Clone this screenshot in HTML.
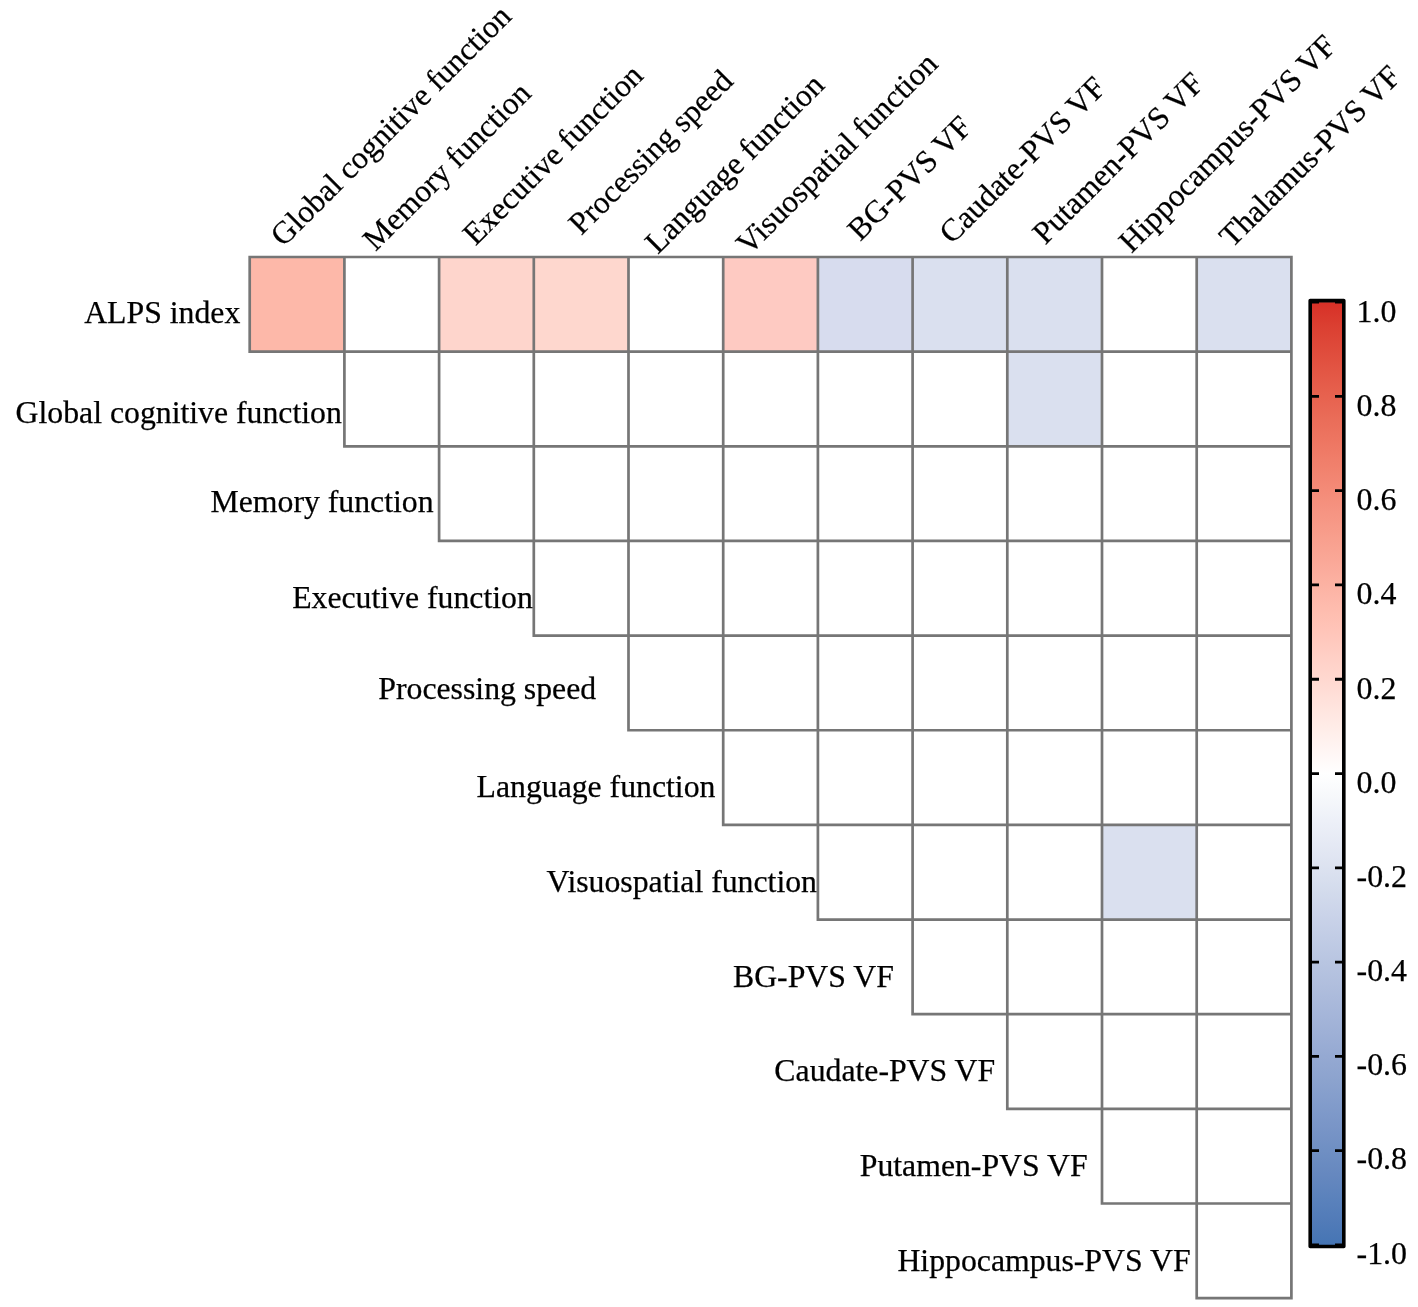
<!DOCTYPE html><html><head><meta charset="utf-8"><style>html,body{margin:0;padding:0;background:#fff;overflow:hidden}svg{display:block}text{font-family:"Liberation Serif",serif}</style></head><body>
<svg width="1418" height="1307" viewBox="0 0 1418 1307" font-family='"Liberation Serif", serif' font-size="31.75">
<rect x="0" y="0" width="1418" height="1307" fill="#fff"/>
<rect x="249.70" y="257.00" width="94.70" height="94.65" fill="#FDB8A9"/>
<rect x="439.10" y="257.00" width="94.70" height="94.65" fill="#FED5CC"/>
<rect x="533.80" y="257.00" width="94.70" height="94.65" fill="#FED7CE"/>
<rect x="723.20" y="257.00" width="94.70" height="94.65" fill="#FECAC2"/>
<rect x="817.90" y="257.00" width="94.70" height="94.65" fill="#D7DCEE"/>
<rect x="912.60" y="257.00" width="94.70" height="94.65" fill="#DAE0EF"/>
<rect x="1007.30" y="257.00" width="94.70" height="94.65" fill="#DAE0EF"/>
<rect x="1196.70" y="257.00" width="94.70" height="94.65" fill="#DAE0EF"/>
<rect x="1007.30" y="351.65" width="94.70" height="94.65" fill="#DAE0EF"/>
<rect x="1102.00" y="824.90" width="94.70" height="94.65" fill="#DAE0EF"/>
<path d="M249.70 257.00H1291.40M249.70 351.65H1291.40M344.40 446.30H1291.40M439.10 540.95H1291.40M533.80 635.60H1291.40M628.50 730.25H1291.40M723.20 824.90H1291.40M817.90 919.55H1291.40M912.60 1014.20H1291.40M1007.30 1108.85H1291.40M1102.00 1203.50H1291.40M1196.70 1298.15H1291.40M249.70 257.00V351.65M344.40 257.00V446.30M439.10 257.00V540.95M533.80 257.00V635.60M628.50 257.00V730.25M723.20 257.00V824.90M817.90 257.00V919.55M912.60 257.00V1014.20M1007.30 257.00V1108.85M1102.00 257.00V1203.50M1196.70 257.00V1298.15M1291.40 257.00V1298.15" stroke="#767676" stroke-width="2.7" fill="none" stroke-linecap="square"/>
<defs><linearGradient id="cb" x1="0" y1="0" x2="0" y2="1"><stop offset="0.000" stop-color="#D73027"/><stop offset="0.025" stop-color="#DB3F31"/><stop offset="0.050" stop-color="#DF4B3B"/><stop offset="0.075" stop-color="#E35745"/><stop offset="0.100" stop-color="#E7624F"/><stop offset="0.125" stop-color="#EA6D59"/><stop offset="0.150" stop-color="#EE7763"/><stop offset="0.175" stop-color="#F1816D"/><stop offset="0.200" stop-color="#F48B78"/><stop offset="0.225" stop-color="#F69583"/><stop offset="0.250" stop-color="#F89F8D"/><stop offset="0.275" stop-color="#FAA898"/><stop offset="0.300" stop-color="#FCB2A3"/><stop offset="0.325" stop-color="#FEBCAE"/><stop offset="0.350" stop-color="#FFC5B9"/><stop offset="0.375" stop-color="#FFCFC5"/><stop offset="0.400" stop-color="#FFD8D0"/><stop offset="0.425" stop-color="#FFE2DC"/><stop offset="0.450" stop-color="#FFECE7"/><stop offset="0.475" stop-color="#FFF5F3"/><stop offset="0.500" stop-color="#FFFFFF"/><stop offset="0.525" stop-color="#F6F8FB"/><stop offset="0.550" stop-color="#EDF0F8"/><stop offset="0.575" stop-color="#E5E9F4"/><stop offset="0.600" stop-color="#DCE2F0"/><stop offset="0.625" stop-color="#D3DBEC"/><stop offset="0.650" stop-color="#CAD3E9"/><stop offset="0.675" stop-color="#C1CCE5"/><stop offset="0.700" stop-color="#B8C5E1"/><stop offset="0.725" stop-color="#B0BEDD"/><stop offset="0.750" stop-color="#A7B7DA"/><stop offset="0.775" stop-color="#9EB0D6"/><stop offset="0.800" stop-color="#95A9D2"/><stop offset="0.825" stop-color="#8CA3CE"/><stop offset="0.850" stop-color="#829CCB"/><stop offset="0.875" stop-color="#7995C7"/><stop offset="0.900" stop-color="#6F8FC3"/><stop offset="0.925" stop-color="#6688BF"/><stop offset="0.950" stop-color="#5B82BC"/><stop offset="0.975" stop-color="#517BB8"/><stop offset="1.000" stop-color="#4575B4"/></linearGradient></defs>
<rect x="1312.0" y="302.1" width="30.0" height="942.9" fill="url(#cb)"/>
<path d="M1312.00 302.10h7M1342.00 302.10h-7M1312.00 396.39h7M1342.00 396.39h-7M1312.00 490.68h7M1342.00 490.68h-7M1312.00 584.97h7M1342.00 584.97h-7M1312.00 679.26h7M1342.00 679.26h-7M1312.00 773.55h7M1342.00 773.55h-7M1312.00 867.84h7M1342.00 867.84h-7M1312.00 962.13h7M1342.00 962.13h-7M1312.00 1056.42h7M1342.00 1056.42h-7M1312.00 1150.71h7M1342.00 1150.71h-7M1312.00 1245.00h7M1342.00 1245.00h-7" stroke="#000" stroke-width="2.8" fill="none"/>
<rect x="1310.20" y="300.60" width="33.60" height="945.90" fill="none" stroke="#000" stroke-width="3.6" stroke-linejoin="round"/>
<g fill="#000" stroke="#000" stroke-width="0.25" style="filter:grayscale(1)"><text x="84.20" y="322.90">ALPS index</text>
<text x="15.57" y="422.80">Global cognitive function</text>
<text x="210.53" y="512.00">Memory function</text>
<text x="292.13" y="607.50">Executive function</text>
<text x="378.33" y="699.20">Processing speed</text>
<text x="476.53" y="797.20">Language function</text>
<text x="546.42" y="892.40">Visuospatial function</text>
<text x="733.03" y="987.30">BG-PVS VF</text>
<text x="774.37" y="1080.60">Caudate-PVS VF</text>
<text x="859.74" y="1175.70">Putamen-PVS VF</text>
<text x="897.43" y="1270.90">Hippocampus-PVS VF</text>
<text transform="translate(283.30,247.70) rotate(-45)" font-size="31.6">Global cognitive function</text>
<text transform="translate(375.60,252.00) rotate(-45)" font-size="31.6">Memory function</text>
<text transform="translate(475.40,246.60) rotate(-45)" font-size="31.6">Executive function</text>
<text transform="translate(581.30,236.00) rotate(-45)" font-size="31.6">Processing speed</text>
<text transform="translate(657.80,254.90) rotate(-45)" font-size="31.6">Language function</text>
<text transform="translate(749.00,256.00) rotate(-45)" font-size="31.6">Visuospatial function</text>
<text transform="translate(860.30,242.00) rotate(-45)" font-size="31.6">BG-PVS VF</text>
<text transform="translate(952.00,245.00) rotate(-45)" font-size="31.6">Caudate-PVS VF</text>
<text transform="translate(1045.20,245.60) rotate(-45)" font-size="31.6">Putamen-PVS VF</text>
<text transform="translate(1131.50,254.00) rotate(-45)" font-size="31.6">Hippocampus-PVS VF</text>
<text transform="translate(1232.10,248.70) rotate(-45)" font-size="31.6">Thalamus-PVS VF</text>
<text x="1356.54" y="321.90" font-size="31.9">1.0</text>
<text x="1356.54" y="416.07" font-size="31.9">0.8</text>
<text x="1356.54" y="510.24" font-size="31.9">0.6</text>
<text x="1356.54" y="604.41" font-size="31.9">0.4</text>
<text x="1356.54" y="698.58" font-size="31.9">0.2</text>
<text x="1356.54" y="792.75" font-size="31.9">0.0</text>
<text x="1356.54" y="886.92" font-size="31.9">-0.2</text>
<text x="1356.54" y="981.09" font-size="31.9">-0.4</text>
<text x="1356.54" y="1075.26" font-size="31.9">-0.6</text>
<text x="1356.54" y="1169.43" font-size="31.9">-0.8</text>
<text x="1356.54" y="1263.60" font-size="31.9">-1.0</text></g>
</svg></body></html>
